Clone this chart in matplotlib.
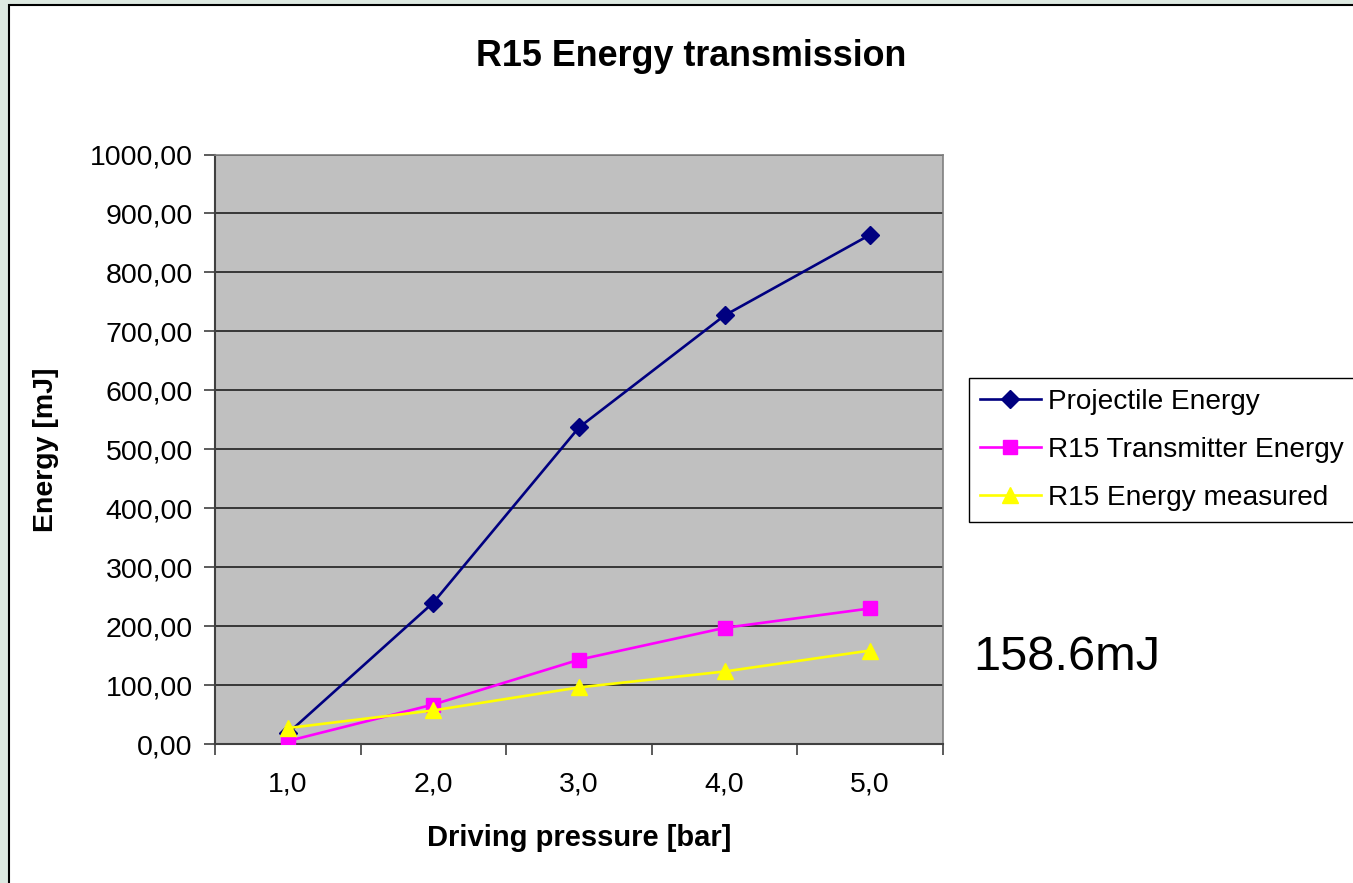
import numpy as np
import matplotlib.pyplot as plt
from matplotlib.patches import Rectangle
from matplotlib.ticker import FixedLocator, FuncFormatter

plt.rcParams['font.family'] = ['Liberation Sans', 'DejaVu Sans']

pressure = [1.0, 2.0, 3.0, 4.0, 5.0]
projectile = [18, 240, 537, 727, 864]
transmitter = [5, 67, 143, 197, 230]
measured = [27, 57, 96, 123, 158.6]
xlabels = ['1,0', '2,0', '3,0', '4,0', '5,0']

fig = plt.figure(figsize=(13.53, 8.83), dpi=100)
fig.patch.set_facecolor('#dde9e1')
# white chart area with black frame (clipped at right and bottom)
fig.patches.append(Rectangle((9/1353, -0.05), 1.5, 1 - 5/883 + 0.05,
                             transform=fig.transFigure, facecolor='white',
                             edgecolor='black', linewidth=1.5, zorder=-1))

ax = fig.add_axes([215/1353, 1 - 744/883, 728/1353, 589.5/883])
ax.set_facecolor('#c0c0c0')

ax.plot(pressure, projectile, color='#000080', marker='D', markersize=9,
        linewidth=1.9, label='Projectile Energy', zorder=3)
ax.plot(pressure, transmitter, color='#ff00ff', marker='s', markersize=9.5,
        linewidth=1.9, label='R15 Transmitter Energy', zorder=4)
ax.plot(pressure, measured, color='#ffff00', marker='^', markersize=12,
        linewidth=1.9, label='R15 Energy measured', zorder=5)

ax.set_xlim(0.5, 5.5)
ax.set_ylim(0, 1000)
ax.set_yticks(np.arange(0, 1001, 100))
ax.yaxis.set_major_formatter(FuncFormatter(lambda v, p: ('%.2f' % v).replace('.', ',')))
ax.set_xticks(pressure)
ax.set_xticklabels(xlabels)
ax.xaxis.set_minor_locator(FixedLocator(np.arange(0.5, 5.6, 1.0)))
ax.tick_params(axis='x', which='major', length=0, pad=20, labelsize=20.5)
ax.tick_params(axis='x', which='minor', length=8, width=1.2, direction='out', color='#404040')
ax.tick_params(axis='y', which='major', length=8, width=1.2, direction='out',
               pad=8, labelsize=20.5, color='#404040')
ax.grid(True, axis='y', color='#202020', linewidth=1.2)
ax.set_axisbelow(True)
for side in ['top', 'right']:
    ax.spines[side].set_color('#808080')
    ax.spines[side].set_linewidth(1.2)
for side in ['left', 'bottom']:
    ax.spines[side].set_color('#404040')
    ax.spines[side].set_linewidth(1.5)

ax.set_xlabel('Driving pressure [bar]', fontsize=21, fontweight='bold', va='center')
ax.set_ylabel('Energy [mJ]', fontsize=20.5, fontweight='bold', va='center')
ax.xaxis.set_label_coords((579 - 215) / 728, (744 - 838) / 589.5)
ax.yaxis.set_label_coords((46 - 215) / 728, (744 - 450) / 589.5)
fig.text(691/1353, 1 - 56/883, 'R15 Energy transmission', fontsize=25.8,
         fontweight='bold', ha='center', va='center')

leg = ax.legend(loc='upper left', bbox_to_anchor=(969/1353, 1 - 378/883),
                bbox_transform=fig.transFigure, fontsize=20.2, frameon=True,
                fancybox=False, edgecolor='black', framealpha=1,
                handlelength=2.15, handletextpad=0.25, borderpad=0.4,
                labelspacing=0.78, borderaxespad=0)
leg.get_frame().set_linewidth(1.0)

fig.text(973/1353, 1 - 658/883, '158.6mJ', fontsize=35, ha='left', va='center')

fig.savefig('out.png', dpi=100, facecolor=fig.get_facecolor())
